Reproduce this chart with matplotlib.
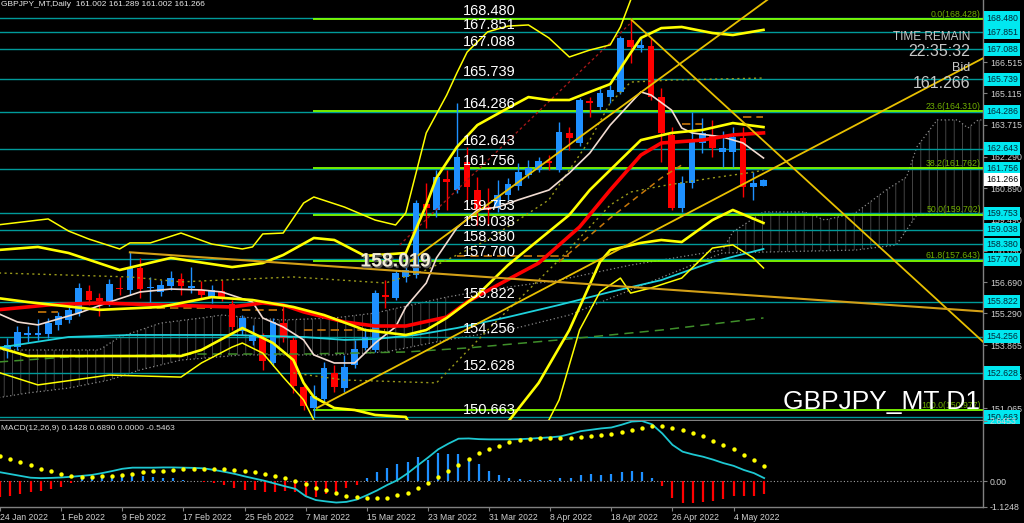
import numpy as np
import pandas as pd
import matplotlib
matplotlib.use("Agg")
import matplotlib.pyplot as plt
from matplotlib import patheffects
from matplotlib.patches import Polygon

plt.rcParams['font.family'] = ['Liberation Sans', 'DejaVu Sans']
plt.rcParams['hatch.linewidth'] = 0.5

# ---------------- data ----------------
dates = pd.bdate_range("2022-01-24", periods=76)

opens = [154.30, 153.70, 153.79, 154.33, 154.33, 154.37, 154.78, 155.00, 155.31, 156.29,
         155.98, 155.76, 156.43, 156.34, 157.32, 156.43, 156.25, 156.52, 156.83, 156.43,
         156.34, 155.98, 156.29, 155.71, 154.51, 154.06, 154.24, 153.08, 154.87, 154.11,
         152.01, 151.07, 151.47, 152.63, 151.96, 152.99, 153.75, 153.66, 156.12, 155.98,
         156.92, 157.01, 160.18, 159.91, 161.29, 160.80, 162.05, 160.80, 160.04, 160.00,
         160.58, 160.98, 161.47, 161.69, 162.10, 161.69, 163.35, 162.90, 164.77, 164.51,
         164.95, 165.18, 167.50, 167.14, 167.23, 164.95, 163.26, 160.00, 161.11, 162.90,
         163.26, 162.50, 162.50, 163.12, 160.93, 161.002]
highs = [154.60, 154.20, 154.73, 154.73, 155.04, 155.09, 155.36, 155.67, 156.65, 156.56,
         156.20, 156.83, 156.92, 158.02, 157.77, 156.92, 156.78, 157.19, 157.10, 157.36,
         156.74, 156.56, 156.78, 155.89, 155.22, 154.78, 154.42, 155.09, 155.67, 154.29,
         152.10, 152.10, 153.12, 152.99, 153.43, 154.11, 154.64, 156.34, 156.78, 157.23,
         157.59, 160.36, 161.11, 161.69, 161.69, 164.69, 162.72, 161.38, 160.89, 161.25,
         161.34, 162.01, 162.14, 162.28, 162.37, 163.84, 163.61, 164.91, 164.95, 165.36,
         165.49, 167.68, 168.48, 167.59, 167.59, 165.36, 163.61, 161.43, 164.28, 164.02,
         163.93, 163.43, 163.61, 163.61, 161.61, 161.289]
lows = [153.20, 153.30, 153.66, 154.02, 154.11, 154.19, 154.55, 154.87, 155.18, 155.67,
        155.18, 155.62, 156.12, 156.12, 155.98, 155.62, 156.07, 156.34, 156.12, 156.20,
        155.98, 155.76, 155.85, 154.55, 154.33, 153.88, 152.77, 152.94, 154.02, 151.74,
        150.98, 150.66, 151.34, 151.78, 151.78, 152.86, 153.66, 153.57, 155.53, 155.89,
        156.69, 156.87, 159.11, 159.60, 159.91, 160.67, 160.36, 159.24, 159.24, 159.82,
        160.36, 160.80, 161.34, 161.61, 161.69, 161.61, 162.59, 162.77, 164.06, 164.37,
        164.69, 165.09, 166.47, 166.96, 164.82, 162.05, 159.91, 159.82, 160.89, 162.45,
        162.28, 161.83, 161.83, 160.49, 160.36, 161.002]
closes = [153.50, 153.90, 154.46, 154.42, 154.42, 154.87, 155.18, 155.45, 156.43, 155.89,
          155.85, 156.61, 156.38, 157.36, 156.38, 156.47, 156.56, 156.87, 156.52, 156.52,
          156.12, 156.34, 156.03, 154.69, 155.09, 154.29, 153.17, 154.91, 154.19, 152.05,
          151.16, 151.61, 152.86, 152.01, 152.90, 153.70, 154.24, 156.20, 156.03, 157.10,
          157.23, 160.22, 160.00, 161.38, 161.16, 162.28, 160.93, 159.91, 159.91, 160.58,
          161.07, 161.61, 161.78, 162.10, 162.01, 163.39, 163.12, 164.82, 164.69, 165.13,
          165.27, 167.59, 167.19, 167.27, 164.95, 163.35, 160.00, 161.11, 163.03, 163.35,
          162.68, 162.68, 163.17, 160.93, 161.11, 161.266]

# indicator traces as (bar, price)
bb_up3 = [(0, 159.24), (5, 159.51), (7, 158.97), (9, 158.61), (12, 158.17), (13, 158.44),
          (15, 158.44), (18, 158.88), (21, 158.39), (24, 158.17), (25, 158.26), (26, 158.84),
          (28, 158.88), (29, 159.55), (30, 160.22), (31, 160.49), (34, 160.04), (37, 159.46),
          (39, 159.24), (40, 159.78), (41, 161.56), (42, 163.35), (44, 165.04), (45, 166.03),
          (46, 166.96), (48, 167.86), (50, 168.12), (52, 168.17), (54, 167.59), (56, 166.74),
          (58, 167.05), (60, 167.28), (61, 168.08), (62, 169.28), (63, 170.4), (66, 171.3),
          (70, 171.5), (75, 171.3)]
bb_up2 = [(0, 158.12), (4, 158.26), (7, 157.99), (12, 157.23), (17, 157.77), (23, 157.36),
          (26, 157.54), (28, 157.90), (31, 158.66), (33, 158.57), (36, 157.86), (40, 157.99),
          (42, 160.13), (43, 161.34), (45, 162.72), (47, 163.70), (50, 164.46), (52, 164.95),
          (54, 164.82), (56, 164.82), (58, 165.18), (60, 165.53), (62, 166.92), (63, 167.59),
          (65, 168.03), (67, 168.08), (70, 167.81), (72, 167.72), (75, 167.95)]
bb_mid = [(0, 155.98), (3, 155.80), (10, 155.45), (16, 155.58), (21, 156.02), (25, 155.89),
          (29, 155.58), (32, 155.22), (36, 154.55), (40, 154.33), (42, 154.55), (44, 155.09),
          (47, 156.11), (50, 157.45), (53, 158.57), (56, 159.69), (58, 160.80), (61, 162.14),
          (63, 163.03), (66, 163.35), (69, 163.48), (72, 163.79), (75, 163.61)]
bb_lo2 = [(0, 153.79), (3, 153.39), (11, 153.39), (18, 153.39), (20, 153.66), (24, 154.64),
          (25, 154.42), (27, 153.97), (29, 153.21), (30, 152.19), (31, 151.56), (33, 151.07),
          (35, 150.98), (37, 150.76), (40, 150.67), (42, 148.97), (45, 148.08), (47, 148.52),
          (50, 150.45), (53, 152.19), (56, 154.55), (59, 157.59), (60, 158.12), (63, 158.44),
          (65, 158.57), (67, 158.48), (70, 159.46), (72, 159.91), (75, 159.33)]
bb_lo3 = [(0, 152.68), (4, 152.10), (11, 152.54), (18, 152.45), (20, 153.08), (23, 153.79),
          (24, 153.97), (26, 153.52), (28, 152.45), (30, 151.43), (31, 150.53), (33, 149.20),
          (40, 148.75), (45, 144.28), (50, 146.96), (53, 149.64), (55, 151.43), (57, 154.55),
          (59, 156.25), (61, 156.87), (62, 156.20), (64, 156.43), (67, 156.87), (70, 158.21),
          (72, 158.35), (74, 157.77), (75, 157.32)]
ma_red = [(0, 155.45), (5, 155.67), (10, 155.76), (16, 155.67), (23, 155.58), (26, 155.76),
          (28, 155.67), (30, 155.36), (34, 154.91), (37, 154.73), (40, 154.73), (44, 155.13),
          (46, 155.80), (49, 156.56), (53, 157.54), (57, 159.15), (60, 160.80), (63, 162.36),
          (65, 162.90), (69, 163.03), (72, 163.26), (75, 163.35)]
ma_white = [(0, 155.31), (2, 154.91), (4, 154.78), (8, 155.31), (11, 155.80), (14, 156.25),
            (17, 156.38), (20, 156.34), (22, 156.25), (25, 155.80), (26, 155.09), (28, 154.69),
            (30, 154.11), (31, 153.44), (33, 153.08), (35, 153.08), (36, 153.52), (37, 153.97),
            (39, 154.69), (40, 155.58), (42, 156.65), (43, 157.77), (45, 159.11), (47, 159.91),
            (49, 160.04), (51, 160.36), (54, 160.80), (56, 161.56), (58, 162.45), (60, 163.70),
            (62, 164.69), (63, 165.18), (64, 165.04), (66, 164.37), (67, 163.57), (68, 163.35),
            (71, 163.17), (73, 162.90), (75, 162.23)]
ma_cyan = [(0, 153.75), (7, 154.24), (13, 154.33), (23, 154.33), (30, 154.24), (34, 154.11),
           (37, 154.15), (41, 154.33), (45, 154.64), (50, 155.13), (55, 155.67), (60, 156.25),
           (65, 156.78), (70, 157.59), (75, 158.17)]
ma_green = [(0, 153.12), (7, 153.35), (20, 153.48), (30, 153.48), (40, 153.57), (46, 153.75),
            (55, 154.11), (65, 154.55), (75, 155.09)]
kumo_top = [(0, 153.66), (10, 153.66), (12, 154.24), (16, 154.86), (20, 155.09), (22, 155.22),
            (25, 155.09), (28, 155.00), (33, 155.09), (37, 155.31), (44, 156.02), (48, 156.34),
            (55, 156.78), (62, 157.45), (68, 157.90), (71, 158.12), (72, 158.93), (75, 159.82),
            (79, 159.82), (81, 159.46), (84, 159.78), (87, 160.80), (89, 161.38), (90, 162.72),
            (92, 163.93), (94, 163.93), (95, 163.57), (96, 163.93), (97, 163.93)]
kumo_bot = [(0, 151.52), (3, 151.74), (7, 151.96), (11, 152.32), (14, 152.77), (18, 153.21),
            (24, 153.44), (33, 153.44), (38, 153.57), (44, 154.11), (50, 154.55), (56, 155.22),
            (62, 156.34), (68, 157.45), (71, 157.99), (84, 158.12), (88, 158.35), (90, 159.69),
            (97, 159.78)]
olive_hi = [(0, 157.10), (13, 156.92), (18, 156.70), (29, 156.92), (38, 156.65), (42, 157.23),
            (48, 158.57), (54, 160.36), (58, 163.03), (60, 164.69), (62, 165.62), (66, 165.71),
            (71, 165.76), (75, 165.80)]
olive_lo = [(29, 152.63), (34, 152.32), (43, 152.19), (48, 154.55), (55, 157.68), (60, 160.13),
            (62, 160.71), (65, 160.98), (70, 161.34), (74, 161.60), (75, 161.69)]
orange_seg = [(4, 6, 155.36), (13, 21, 155.53), (24, 28, 155.45), (30, 38, 154.55),
              (45, 56, 157.86), (67, 69, 163.75), (73, 75, 164.06)]
orange_diag = [(55, 157.59), (60, 159.55), (65, 161.34), (67, 161.92)]
red_channel = [(39.4, 158.35), (61.9, 168.21)]

# straight trend lines: (bar0, price0, bar1, price1)
trend_yellow = [(31.3, 151.07, 96.5, 166.69), (62.1, 168.39, 96.5, 154.02),
                (40.0, 157.48, 76.0, 169.50)]
trend_gold = (13.0, 158.02, 96.5, 155.38)

hline_px = [168.480, 167.851, 167.088, 165.739, 164.286, 162.643, 161.756, 159.753,
            159.038, 158.380, 157.700, 155.822, 154.256, 152.628, 150.663]
fib_lvl = [0.0, 23.6, 38.2, 50.0, 61.8, 100.0]
fib_px = [168.428, 164.310, 161.762, 159.702, 157.643, 150.977]
price_ticks = [166.515, 165.115, 163.715, 162.290, 160.890, 159.490, 158.090, 156.690,
               155.290, 153.865, 152.465, 151.065]

macd = [0.40, 0.32, 0.24, 0.16, 0.14, 0.15, 0.17, 0.20, 0.24, 0.28,
        0.36, 0.45, 0.55, 0.60, 0.60, 0.60, 0.61, 0.61, 0.60, 0.59,
        0.57, 0.50, 0.42, 0.33, 0.22, 0.12, 0.02, -0.10, -0.22, -0.33,
        -0.65, -0.82, -0.88, -0.93, -0.90, -0.80, -0.61, -0.40, -0.16, 0.05,
        0.35, 0.70, 1.04, 1.40, 1.65, 1.87, 1.88, 1.85, 1.84, 1.84,
        1.84, 1.85, 1.87, 1.90, 1.93, 1.97, 2.08, 2.20, 2.26, 2.32,
        2.36, 2.48, 2.62, 2.6453, 2.50, 2.10, 1.60, 1.30, 1.18, 1.08,
        0.95, 0.80, 0.68, 0.50, 0.36, 0.1428]
signal = [1.12, 0.99, 0.83, 0.72, 0.55, 0.44, 0.33, 0.25, 0.20, 0.20,
          0.22, 0.25, 0.28, 0.33, 0.39, 0.44, 0.47, 0.49, 0.52, 0.55,
          0.55, 0.55, 0.53, 0.49, 0.46, 0.41, 0.32, 0.22, 0.13, 0.01,
          -0.11, -0.27, -0.38, -0.53, -0.63, -0.69, -0.74, -0.74, -0.71, -0.61,
          -0.50, -0.30, -0.08, 0.19, 0.47, 0.72, 1.00, 1.23, 1.43, 1.57,
          1.71, 1.83, 1.85, 1.89, 1.90, 1.90, 1.90, 1.93, 2.00, 2.03,
          2.09, 2.17, 2.25, 2.33, 2.41, 2.42, 2.36, 2.25, 2.14, 1.97,
          1.79, 1.60, 1.40, 1.17, 0.94, 0.689]
hist = [-0.70, -0.63, -0.55, -0.47, -0.42, -0.35, -0.24, -0.08, 0.16, 0.13,
        0.24, 0.24, 0.31, 0.24, 0.24, 0.19, 0.13, 0.13, 0.08, 0.03,
        -0.05, -0.08, -0.16, -0.31, -0.39, -0.39, -0.47, -0.47, -0.42, -0.47,
        -0.63, -0.68, -0.55, -0.47, -0.27, -0.16, 0.13, 0.42, 0.58, 0.74,
        0.86, 1.05, 0.94, 1.26, 1.21, 1.18, 1.02, 0.74, 0.47, 0.28,
        0.16, 0.11, 0.08, 0.08, 0.05, 0.13, 0.13, 0.27, 0.30, 0.28,
        0.30, 0.42, 0.46, 0.42, 0.16, -0.20, -0.71, -0.94, -0.94, -0.90,
        -0.86, -0.79, -0.63, -0.63, -0.63, -0.5463]

# ---------------- colours ----------------
BLUE = '#1e90ff'
RED = '#ff0000'
TEAL = '#009a9a'
LIME = '#7fff00'
YEL = '#ffff00'
GRID_GRAY = '#808080'
TXT = '#d0d0d0'

W, H = 1024, 523


def fx(x):
    return x / W


def fy(y):
    return 1 - y / H


fig = plt.figure(figsize=(W / 100, H / 100), dpi=100, facecolor='black')
ax = fig.add_axes([0, fy(420), fx(983), 420 / H], facecolor='black')
axm = fig.add_axes([0, fy(507), fx(983), 86 / H], facecolor='black')

for a in (ax, axm):
    a.set_xlim(0.29, 96.48)
    for s in ('left', 'top'):
        a.spines[s].set_visible(False)
    for s in ('right', 'bottom'):
        a.spines[s].set_color(GRID_GRAY)
        a.spines[s].set_linewidth(1)
    a.yaxis.tick_right()

ax.set_ylim(150.534, 169.284)
axm.set_ylim(-1.1248, 2.6453)


def trace(target, pts, **kw):
    b, p = zip(*pts)
    target.plot(b, p, **kw)


# ---------------- ichimoku cloud ----------------
for lo_b, hi_b in ((0, 44), (71, 97)):
    top = [pt for pt in kumo_top if lo_b <= pt[0] <= hi_b]
    bot = [pt for pt in kumo_bot if lo_b <= pt[0] <= hi_b]
    poly = Polygon(top + bot[::-1], closed=True, facecolor='none', edgecolor='#5e5e5e',
                   hatch='||', linewidth=0, zorder=1)
    ax.add_patch(poly)
trace(ax, kumo_top, color='#8a8a8a', lw=0.9, ls=(0, (1, 2)), zorder=1)
trace(ax, kumo_bot, color='#8a8a8a', lw=0.9, ls=(0, (1, 2)), zorder=1)

# ---------------- horizontal levels ----------------
for p in hline_px:
    ax.axhline(p, color=TEAL, lw=1, zorder=2)
ax.hlines(fib_px, 30.9, 96.5, color=LIME, lw=1.3, zorder=2)
for lvl, p in zip(fib_lvl, fib_px):
    ax.text(96.28, p + 0.02, f"{lvl:.1f}({p:.3f})", ha='right', va='bottom',
            fontsize=6.3, color='#6fae00', zorder=6)

# ---------------- candles ----------------
idx = np.arange(len(opens))
o, h, l, c = (np.array(v) for v in (opens, highs, lows, closes))
col = np.where(c >= o, BLUE, RED)
ax.vlines(idx, l, h, colors=col, lw=1, zorder=3)
ax.bar(idx, np.maximum(np.abs(c - o), 0.04), bottom=np.minimum(o, c), width=0.66,
       color=col, linewidth=0, zorder=3)

# ---------------- indicators ----------------
trace(ax, ma_green, color='#3f8f2a', lw=1.1, ls=(0, (6, 4)), zorder=4)
trace(ax, olive_hi, color='#9a9a1a', lw=1, ls=(0, (1.5, 2.5)), zorder=4)
trace(ax, olive_lo, color='#9a9a1a', lw=1, ls=(0, (1.5, 2.5)), zorder=4)
for b0, b1, p in orange_seg:
    ax.hlines(p, b0, b1, color='#c8780a', lw=1.2, ls=(0, (5, 3)), zorder=4)
trace(ax, orange_diag, color='#c8780a', lw=1.1, ls=(0, (4, 3)), zorder=4)
trace(ax, red_channel, color='#a01818', lw=1, ls=(0, (2, 2)), zorder=4)
trace(ax, ma_cyan, color='#1ed2dc', lw=1.3, zorder=4)
trace(ax, ma_white, color='#f2dcd2', lw=1.2, zorder=5)
trace(ax, ma_red, color=RED, lw=2.6, zorder=5)
trace(ax, bb_up3, color=YEL, lw=1.1, zorder=5)
trace(ax, bb_lo3, color=YEL, lw=1.1, zorder=5)
trace(ax, bb_up2, color=YEL, lw=1.9, zorder=5)
trace(ax, bb_mid, color=YEL, lw=1.9, zorder=5)
trace(ax, bb_lo2, color=YEL, lw=1.9, zorder=5)
for b0, p0, b1, p1 in trend_yellow:
    ax.plot([b0, b1], [p0, p1], color='#e8c000', lw=1.3, zorder=5)
ax.plot(trend_gold[::2], trend_gold[1::2], color='#d4a017', lw=1.5, zorder=5)

# ---------------- labels on the chart ----------------
for p in hline_px:
    ax.text(45.6, p + 0.155, f"{p:.3f}", color='white', fontsize=10.5, ha='left',
            va='baseline', zorder=7)
ax.text(39.0, 157.59, "158.019", color='#f2ecd8', fontsize=14, fontweight='bold',
        ha='center', va='center', zorder=7,
        path_effects=[patheffects.withSimplePatchShadow(offset=(1.2, -1.2),
                                                        shadow_rgbFace='#505050', alpha=1)])

# ---------------- price axis ----------------
ax.set_xticks([])
ax.set_yticks(price_ticks)
ax.set_yticklabels([f"{p:.3f}" for p in price_ticks])
ax.tick_params(axis='y', color=GRID_GRAY, labelcolor=TXT, labelsize=6.3, length=3,
               width=0.8, pad=2)
ytr = ax.get_yaxis_transform()
for p in hline_px:
    ax.text(1 + 3 / 983, p, f"{p:.3f}", transform=ytr, ha='left', va='center',
            fontsize=6.3, color='#002838', zorder=10, clip_on=False,
            bbox=dict(boxstyle='square,pad=0.25', fc='#00e8f0', ec='none'))
ax.text(1 + 3 / 983, closes[-1], f"{closes[-1]:.3f}", transform=ytr, ha='left',
        va='center', fontsize=6.3, color='black', zorder=11, clip_on=False,
        bbox=dict(boxstyle='square,pad=0.25', fc='white', ec='none'))

# ---------------- MACD panel ----------------
axm.axhline(0, color='#a0a0a0', lw=0.8, ls=(0, (1, 2)))
hv = np.array(hist)
axm.vlines(idx, 0, hv, colors=np.where(hv >= 0, BLUE, RED), lw=1.6)
axm.plot(idx, macd, color='#1ec8d2', lw=1.3, zorder=3)
axm.scatter(idx, signal, s=10, color=YEL, linewidths=0, zorder=4)
axm.set_yticks([2.6453, 0.0, -1.1248])
axm.set_yticklabels(['2.6453', '0.00', '-1.1248'])
axm.tick_params(axis='y', color=GRID_GRAY, labelcolor=TXT, labelsize=6.3, length=3,
                width=0.8, pad=2)
tick_bars = list(range(0, 76, 6))
axm.set_xticks(tick_bars)
axm.set_xticklabels([f"{dates[i].day} {dates[i]:%b %Y}" for i in tick_bars], ha='left')
axm.tick_params(axis='x', color=GRID_GRAY, labelcolor=TXT, labelsize=6.2, length=3,
                width=0.8, pad=1.5)

# ---------------- overlay texts ----------------
fig.text(fx(1), fy(5), "GBPJPY_MT,Daily  161.002 161.289 161.002 161.266", fontsize=6,
         color='#e8e8e8', ha='left', va='center')
fig.text(fx(1), fy(428), "MACD(12,26,9) 0.1428 0.6890 0.0000 -0.5463", fontsize=6,
         color='#d8d8d8', ha='left', va='center')
fig.text(fx(970), fy(37), "TIME REMAIN", fontsize=8.5, color='#c8c8c8', ha='right', va='center')
fig.text(fx(970), fy(52), "22:35:32", fontsize=11.5, color='#c8c8c8', ha='right', va='center')
fig.text(fx(970), fy(68), "Bid", fontsize=9, color='#c8c8c8', ha='right', va='center')
fig.text(fx(970), fy(83), "161.266", fontsize=11.5, color='#c8c8c8', ha='right', va='center')
fig.text(fx(980), fy(402), "GBPJPY_MT D1", fontsize=19, color='white', ha='right',
         va='center', zorder=12)

fig.savefig("out.png", dpi=100, facecolor='black')
